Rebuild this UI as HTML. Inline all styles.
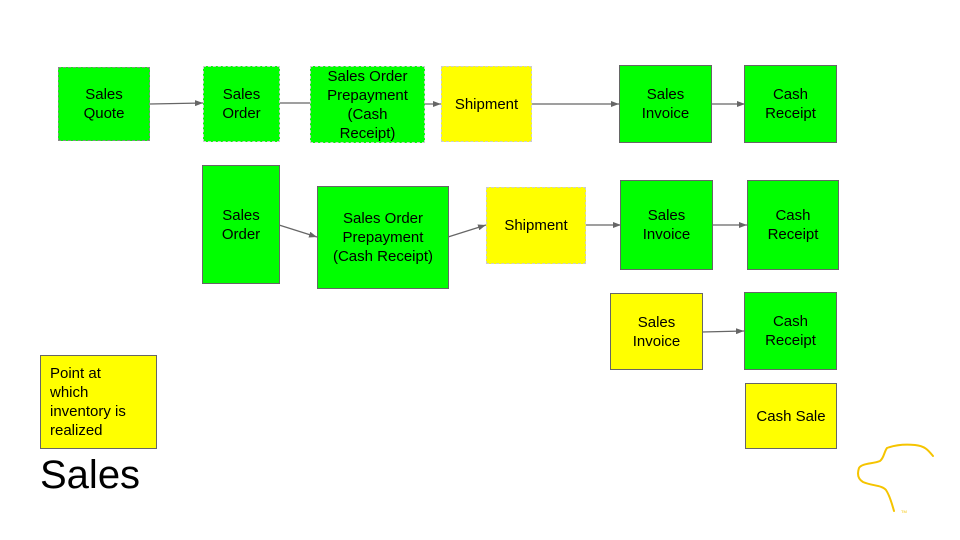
<!DOCTYPE html>
<html><head><meta charset="utf-8"><style>
body{margin:0;width:960px;height:540px;background:#fff;position:relative;overflow:hidden;font-family:"Liberation Sans",sans-serif}
.b{position:absolute;box-sizing:border-box;display:flex;align-items:center;justify-content:center;text-align:center;font-size:15px;line-height:19px;color:#000}
.g{background:#00ff00}.y{background:#ffff00}
.s{border:1px solid #666}.d{border:1px dashed #888}.dl{border:1px dashed #ccc}
svg{position:absolute;left:0;top:0}
</style></head><body>
<svg width="960" height="540"><defs><marker id="a" markerWidth="8" markerHeight="6" refX="8" refY="3" orient="auto" markerUnits="userSpaceOnUse"><path d="M0,0L8,3L0,6z" fill="#666"/></marker></defs>
<g stroke="#666" stroke-width="1.2" fill="none">
<line x1="150" y1="104" x2="203" y2="103" marker-end="url(#a)"/>
<line x1="280" y1="103" x2="310" y2="103"/>
<line x1="425" y1="104" x2="441" y2="104" marker-end="url(#a)"/>
<line x1="532" y1="104" x2="619" y2="104" marker-end="url(#a)"/>
<line x1="711" y1="104" x2="745" y2="104" marker-end="url(#a)"/>
<line x1="279" y1="225" x2="317" y2="237" marker-end="url(#a)"/>
<line x1="448" y1="237" x2="486" y2="225" marker-end="url(#a)"/>
<line x1="585" y1="225" x2="621" y2="225" marker-end="url(#a)"/>
<line x1="712" y1="225" x2="747" y2="225" marker-end="url(#a)"/>
<line x1="702" y1="332" x2="744" y2="331" marker-end="url(#a)"/>
</g>
<path d="M933,456 C928,450 925,446 915,445 C905,444 895,445 887,448 C884,452 884,458 880,461 C873,464 862,463 859,468 C857,474 858,479 863,482 C872,486 882,485 886,490 C890,496 892,504 894,511" stroke="#f5c400" stroke-width="2" fill="none" stroke-linecap="round"/>
<text x="901" y="513" font-size="4" fill="#f5c400" font-family="Liberation Sans">TM</text>
</svg>
<div class="b g d" style="left:58px;top:67px;width:92px;height:74px">Sales<br>Quote</div>
<div class="b g dl" style="left:203px;top:66px;width:77px;height:76px">Sales<br>Order</div>
<div class="b g dl" style="left:310px;top:66px;width:115px;height:77px">Sales Order<br>Prepayment<br>(Cash<br>Receipt)</div>
<div class="b y dl" style="left:441px;top:66px;width:91px;height:76px">Shipment</div>
<div class="b g s" style="left:619px;top:65px;width:93px;height:78px">Sales<br>Invoice</div>
<div class="b g s" style="left:744px;top:65px;width:93px;height:78px">Cash<br>Receipt</div>
<div class="b g s" style="left:202px;top:165px;width:78px;height:119px">Sales<br>Order</div>
<div class="b g s" style="left:317px;top:186px;width:132px;height:103px">Sales Order<br>Prepayment<br>(Cash Receipt)</div>
<div class="b y dl" style="left:486px;top:187px;width:100px;height:77px">Shipment</div>
<div class="b g s" style="left:620px;top:180px;width:93px;height:90px">Sales<br>Invoice</div>
<div class="b g s" style="left:747px;top:180px;width:92px;height:90px">Cash<br>Receipt</div>
<div class="b y s" style="left:610px;top:293px;width:93px;height:77px">Sales<br>Invoice</div>
<div class="b g s" style="left:744px;top:292px;width:93px;height:78px">Cash<br>Receipt</div>
<div class="b y s" style="left:745px;top:383px;width:92px;height:66px">Cash Sale</div>
<div class="b y s" style="left:40px;top:355px;width:117px;height:94px;justify-content:flex-start;text-align:left;padding-left:9px">Point at<br>which<br>inventory is<br>realized</div>
<div style="position:absolute;left:40px;top:452px;font-size:40px;line-height:46px">Sales</div>
</body></html>
